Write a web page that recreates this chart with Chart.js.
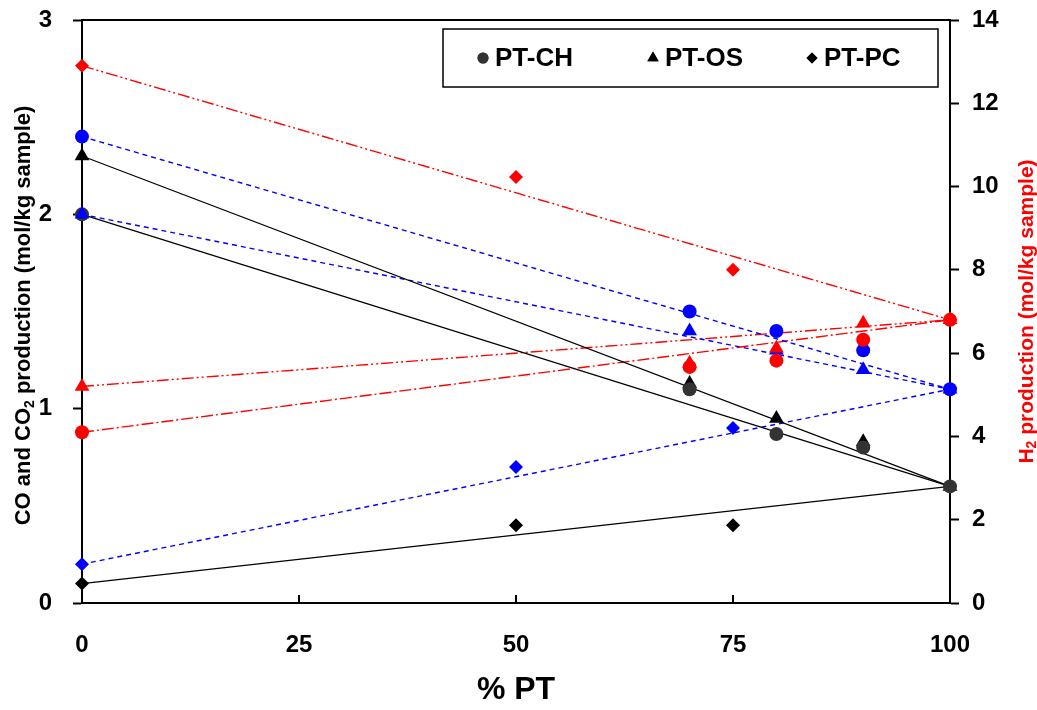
<!DOCTYPE html>
<html>
<head>
<meta charset="utf-8">
<script src="https://cdn.jsdelivr.net/npm/chart.js@4.4.1/dist/chart.umd.min.js"></script>
<style>
  html, body { margin: 0; padding: 0; background: #fff; }
</style>
</head>
<body>
<canvas id="chart" width="1037" height="710"></canvas>
<script>
// % PT in the blend
const pctPT = [0, 70, 80, 90, 100];
const pctPC = [0, 50, 75, 100];

// CO (black) and CO2 (blue), mol/kg sample - left axis
const coCH  = [2.00, 1.10, 0.87, 0.80, 0.60];
const coOS  = [2.30, 1.13, 0.95, 0.83, 0.60];
const coPC  = [0.10, 0.40, 0.40, 0.60];
const co2CH = [2.40, 1.50, 1.40, 1.30, 1.10];
const co2OS = [2.00, 1.40, 1.30, 1.20, 1.10];
const co2PC = [0.20, 0.70, 0.90, 1.10];

// H2 (red), mol/kg sample - right axis
const h2CH = [4.10, 5.67, 5.82, 6.32, 6.80];
const h2OS = [5.20, 5.76, 6.12, 6.72, 6.80];
const h2PC = [12.90, 10.23, 8.00, 6.80];

const xTicks = [0, 25, 50, 75, 100];
const coTicks = [0, 1, 2, 3];
const h2Ticks = [0, 2, 4, 6, 8, 10, 12, 14];
const legendLabels = ['PT-CH', 'PT-OS', 'PT-PC'];

const FONT = '"Liberation Sans", Arial, Helvetica, sans-serif';
Chart.defaults.font.family = FONT;
Chart.defaults.font.weight = 'bold';
Chart.defaults.color = '#000';

function pts(xs, ys) {
    return xs.map((x, i) => ({ x: x, y: ys[i] }));
}
function ends(xs, ys) {
    const n = xs.length - 1;
    return [{ x: xs[0], y: ys[0] }, { x: xs[n], y: ys[n] }];
}

const DASH_BLUE = [5, 4];
const DASH_DOT = [12, 3, 2, 3];
const DASH_DOT_DOT = [12, 3, 2, 3, 2, 3];

const series = [
    { xs: pctPT, ys: coCH,  axis: 'y',  color: '#333333', style: 'circle',   r: 7,   line: '#000', dash: [], order: 3 },
    { xs: pctPT, ys: coOS,  axis: 'y',  color: '#000000', style: 'triangle', r: 8.5, line: '#000', dash: [], order: 3 },
    { xs: pctPC, ys: coPC,  axis: 'y',  color: '#000000', style: 'rectRot',  r: 7,   line: '#000', dash: [], order: 3 },
    { xs: pctPT, ys: co2CH, axis: 'y',  color: '#0000FF', style: 'circle',   r: 7,   line: '#0000FF', dash: DASH_BLUE, order: 2 },
    { xs: pctPT, ys: co2OS, axis: 'y',  color: '#0000FF', style: 'triangle', r: 8.5, line: '#0000FF', dash: DASH_BLUE, order: 2 },
    { xs: pctPC, ys: co2PC, axis: 'y',  color: '#0000FF', style: 'rectRot',  r: 7,   line: '#0000FF', dash: DASH_BLUE, order: 2 },
    { xs: pctPT, ys: h2CH,  axis: 'y2', color: '#FF0000', style: 'circle',   r: 7,   line: '#FF0000', dash: DASH_DOT, order: 1 },
    { xs: pctPT, ys: h2OS,  axis: 'y2', color: '#FF0000', style: 'triangle', r: 8.5, line: '#FF0000', dash: DASH_DOT_DOT, order: 1 },
    { xs: pctPC, ys: h2PC,  axis: 'y2', color: '#FF0000', style: 'rectRot',  r: 7,   line: '#FF0000', dash: DASH_DOT_DOT, order: 1 }
];

const datasets = [];
series.forEach(s => {
    // trend line between first and last measurement
    datasets.push({
        data: ends(s.xs, s.ys),
        yAxisID: s.axis,
        showLine: true,
        borderColor: s.line,
        borderWidth: s.dash.length ? 1.4 : 1.2,
        borderDash: s.dash,
        pointRadius: 0,
        clip: false,
        order: 10
    });
    datasets.push({
        data: pts(s.xs, s.ys),
        yAxisID: s.axis,
        showLine: false,
        pointStyle: s.style,
        pointRadius: s.r,
        backgroundColor: s.color,
        borderColor: s.color,
        borderWidth: 0,
        clip: false,
        order: s.order
    });
});

// draws text with subscript parts, centred and rotated
function drawRich(ctx, parts, cx, cy, rot, size, color) {
    ctx.save();
    ctx.translate(cx, cy);
    ctx.rotate(rot);
    ctx.fillStyle = color;
    ctx.textBaseline = 'alphabetic';
    ctx.textAlign = 'left';
    const subSize = Math.round(size * 0.65);
    let total = 0;
    parts.forEach(p => {
        ctx.font = 'bold ' + (p.sub ? subSize : size) + 'px ' + FONT;
        p.w = ctx.measureText(p.t).width;
        total += p.w;
    });
    let x = -total / 2;
    const base = size * 0.36;
    parts.forEach(p => {
        ctx.font = 'bold ' + (p.sub ? subSize : size) + 'px ' + FONT;
        ctx.fillText(p.t, x, p.sub ? base + size * 0.18 : base);
        x += p.w;
    });
    ctx.restore();
}

function noPad(s) {
    s.paddingTop = 0;
    s.paddingBottom = 0;
    s.paddingLeft = 0;
    s.paddingRight = 0;
}

const decor = {
    id: 'decor',
    afterDraw(chart) {
        const ctx = chart.ctx;
        const a = chart.chartArea;
        const xs = chart.scales.x;

        ctx.save();
        ctx.strokeStyle = '#000';
        ctx.lineWidth = 2;
        // top frame line
        ctx.beginPath();
        ctx.moveTo(a.left, a.top);
        ctx.lineTo(a.right, a.top);
        ctx.stroke();
        // inward x ticks
        xs.ticks.forEach(t => {
            const px = xs.getPixelForValue(t.value);
            ctx.beginPath();
            ctx.moveTo(px, a.bottom);
            ctx.lineTo(px, a.bottom - 8);
            ctx.stroke();
        });

        // legend box
        ctx.lineWidth = 1.5;
        ctx.strokeRect(443, 29, 495, 58);
        const items = [
            { x: 483, style: 'circle', r: 5.5, color: '#333333' },
            { x: 653, style: 'triangle', r: 6.5, color: '#000' },
            { x: 812, style: 'rectRot', r: 5.5, color: '#000' }
        ];
        ctx.font = 'bold 26px ' + FONT;
        ctx.textBaseline = 'middle';
        ctx.textAlign = 'left';
        items.forEach((it, i) => {
            ctx.fillStyle = it.color;
            Chart.helpers.drawPoint(ctx, { pointStyle: it.style, radius: it.r, borderWidth: 0 }, it.x, 58);
            ctx.fill();
            ctx.fillStyle = '#000';
            ctx.fillText(legendLabels[i], it.x + 12, 59);
        });
        ctx.restore();

        const midY = (a.top + a.bottom) / 2;
        drawRich(ctx, [{ t: 'CO and CO' }, { t: '2', sub: true }, { t: ' production (mol/kg sample)' }],
            22, midY + 4, -Math.PI / 2, 22, '#000');
        drawRich(ctx, [{ t: 'H' }, { t: '2', sub: true }, { t: ' production (mol/kg sample)' }],
            1025, midY, -Math.PI / 2, 21, '#FF0000');
    }
};

new Chart(document.getElementById('chart'), {
    type: 'scatter',
    data: { datasets: datasets },
    options: {
        responsive: false,
        animation: false,
        layout: { padding: { top: 20, left: 0, right: 0, bottom: 0 } },
        plugins: {
            legend: { display: false },
            tooltip: { enabled: false }
        },
        scales: {
            x: {
                type: 'linear',
                min: xTicks[0],
                max: xTicks[xTicks.length - 1],
                afterBuildTicks: s => { s.ticks = xTicks.map(v => ({ value: v })); },
                afterFit: s => { s.height = 107; noPad(s); },
                grid: { drawOnChartArea: false, drawTicks: false },
                border: { color: '#000', width: 2 },
                ticks: { font: { size: 24, weight: 'bold' }, color: '#000', padding: 28, maxRotation: 0 },
                title: { display: true, text: '% PT', font: { size: 32, weight: 'bold' }, color: '#000', padding: { top: 0, bottom: 1 } }
            },
            y: {
                position: 'left',
                min: coTicks[0],
                max: coTicks[coTicks.length - 1],
                afterBuildTicks: s => { s.ticks = coTicks.map(v => ({ value: v })); },
                afterFit: s => { s.width = 82; noPad(s); },
                grid: { drawOnChartArea: false, drawTicks: true, tickLength: 9, tickWidth: 2, tickColor: '#000' },
                border: { color: '#000', width: 2 },
                ticks: { font: { size: 24, weight: 'bold' }, color: '#000', padding: 21 }
            },
            y2: {
                position: 'right',
                min: h2Ticks[0],
                max: h2Ticks[h2Ticks.length - 1],
                afterBuildTicks: s => { s.ticks = h2Ticks.map(v => ({ value: v })); },
                afterFit: s => { s.width = 87; noPad(s); },
                grid: { drawOnChartArea: false, drawTicks: true, tickLength: 9, tickWidth: 2, tickColor: '#000' },
                border: { color: '#000', width: 2 },
                ticks: { font: { size: 24, weight: 'bold' }, color: '#000', padding: 13 }
            }
        }
    },
    plugins: [decor]
});
</script>
</body>
</html>
